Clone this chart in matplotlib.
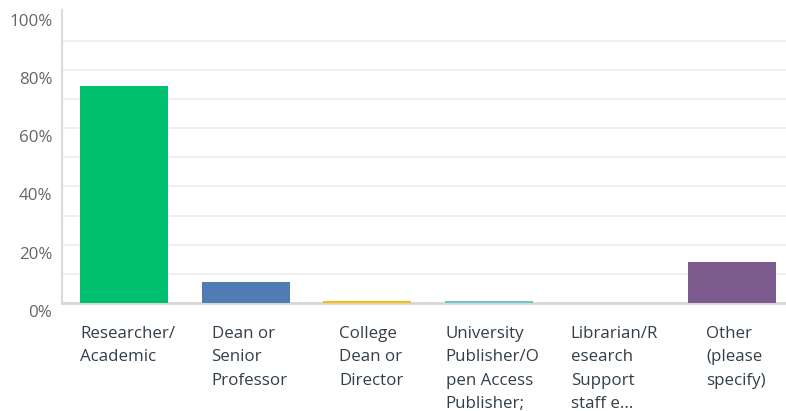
import matplotlib.pyplot as plt
from matplotlib.transforms import ScaledTranslation

# Respondent roles, share of answers in percent
roles = [
    "Researcher/\nAcademic",
    "Dean or\nSenior\nProfessor",
    "College\nDean or\nDirector",
    "University\nPublisher/O\npen Access\nPublisher;",
    "Librarian/R\nesearch\nSupport\nstaff e...",
    "Other\n(please\nspecify)",
]
shares = [74.6, 7.3, 0.7, 0.7, 0.0, 14.0]
bar_colours = ["#00bf6f", "#507cb6", "#f9be00", "#6bc8cd", "#ff8b4f", "#7d5b8f"]
y_ticks = [0, 20, 40, 60, 80, 100]
y_tick_labels = ["0%", "20%", "40%", "60%", "80%", "100%"]

plt.rcParams["font.family"] = ["Open Sans", "DejaVu Sans"]

W, H = 786, 411
fig = plt.figure(figsize=(W / 100, H / 100), dpi=100)
ax = fig.add_axes([62 / W, (H - 303) / H, (W - 62) / W, 293 / H])

positions = list(range(len(roles)))
ax.bar(positions, shares, width=0.724, color=bar_colours, zorder=3)

ax.set_xlim(-0.51, 5.444)
ax.set_ylim(0, 100.6)

# light horizontal grid every 10%
for level in range(10, 100, 10):
    ax.axhline(level, color="#ebebeb", linewidth=1.2, zorder=1)
ax.axhline(0, color="#d6d6d6", linewidth=2, zorder=2, clip_on=False)

for side in ["top", "right", "bottom"]:
    ax.spines[side].set_visible(False)
ax.spines["left"].set_color("#dcdcdc")
ax.spines["left"].set_linewidth(1.6)

ax.set_yticks(y_ticks)
ax.set_yticklabels(y_tick_labels, fontsize=12.2, color="#62666b")
ax.tick_params(axis="y", length=0, pad=7)
shift = ScaledTranslation(0, -8 / 100, fig.dpi_scale_trans)
for lab in ax.get_yticklabels():
    lab.set_transform(lab.get_transform() + shift)

ax.set_xticks([])
# category labels below the baseline, wrapped into narrow blocks
for pos, name in zip(positions, roles):
    ax.annotate(name, xy=(pos, 0), xycoords="data",
                xytext=(4, -23), textcoords="offset pixels",
                ha="center", va="top", multialignment="left",
                fontsize=12.2, color="#333e48", linespacing=1.62)

fig.savefig("out.png", dpi=100)
